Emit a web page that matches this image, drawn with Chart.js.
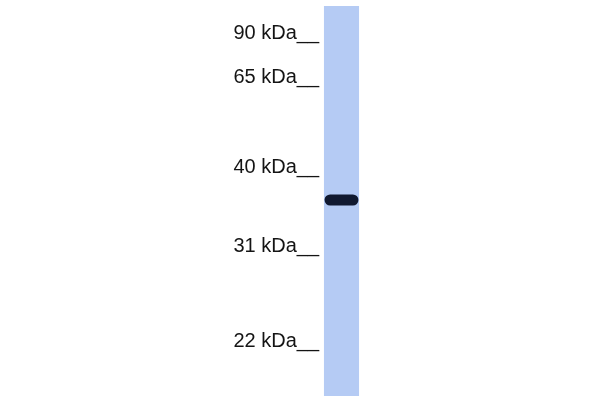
<!DOCTYPE html>
<html>
<head>
<meta charset="utf-8">
<script src="https://cdn.jsdelivr.net/npm/chart.js@4"></script>
<style>
  body { margin: 0; background: #fff; }
  #blot { display: block; }
</style>
</head>
<body>
<canvas id="blot" width="600" height="400"></canvas>
<script>
// migration scale: 0 = top of picture, 100 = bottom
const lanes = ['lane 1']
const markerLabels = ['90 kDa', '65 kDa', '40 kDa', '31 kDa', '22 kDa']
const markerPos = [8.25, 19.4, 41.9, 61.5, 85.25]
const laneRange = [1.5, 99]
const bandRange = [48.6, 51.4]

const ctx = document.getElementById('blot')

const blotChart = new Chart(ctx, {
    type: 'bar',
    data: {
        labels: lanes,
        datasets: [
            {
                label: 'band',
                data: [bandRange],
                backgroundColor: '#101930',
                borderRadius: 6,
                borderSkipped: false,
                grouped: false,
                categoryPercentage: 1,
                barPercentage: 0.87,
                order: 1
            },
            {
                label: 'lane',
                data: [laneRange],
                backgroundColor: '#b5cbf4',
                borderSkipped: false,
                grouped: false,
                categoryPercentage: 1,
                barPercentage: 0.9,
                order: 2
            }
        ]
    },
    options: {
        responsive: false,
        animation: false,
        devicePixelRatio: 1,
        layout: { padding: { left: 0, right: 239, top: 0, bottom: 0 } },
        plugins: {
            legend: { display: false },
            tooltip: { enabled: false }
        },
        scales: {
            x: {
                display: false
            },
            y: {
                reverse: true,
                min: 0,
                max: 100,
                grid: { display: false, drawTicks: false },
                border: { display: false },
                afterBuildTicks: (scale) => {
                    scale.ticks = markerPos.map(v => ({ value: v }))
                },
                afterFit: (scale) => {
                    scale.width = 322
                    scale.paddingTop = 0
                    scale.paddingBottom = 0
                },
                ticks: {
                    autoSkip: false,
                    padding: 3,
                    color: '#141414',
                    font: { family: 'Liberation Sans, Arial, sans-serif', size: 20 },
                    callback: (value, index) => markerLabels[index] + '__'
                }
            }
        }
    }
})
</script>
</body>
</html>
